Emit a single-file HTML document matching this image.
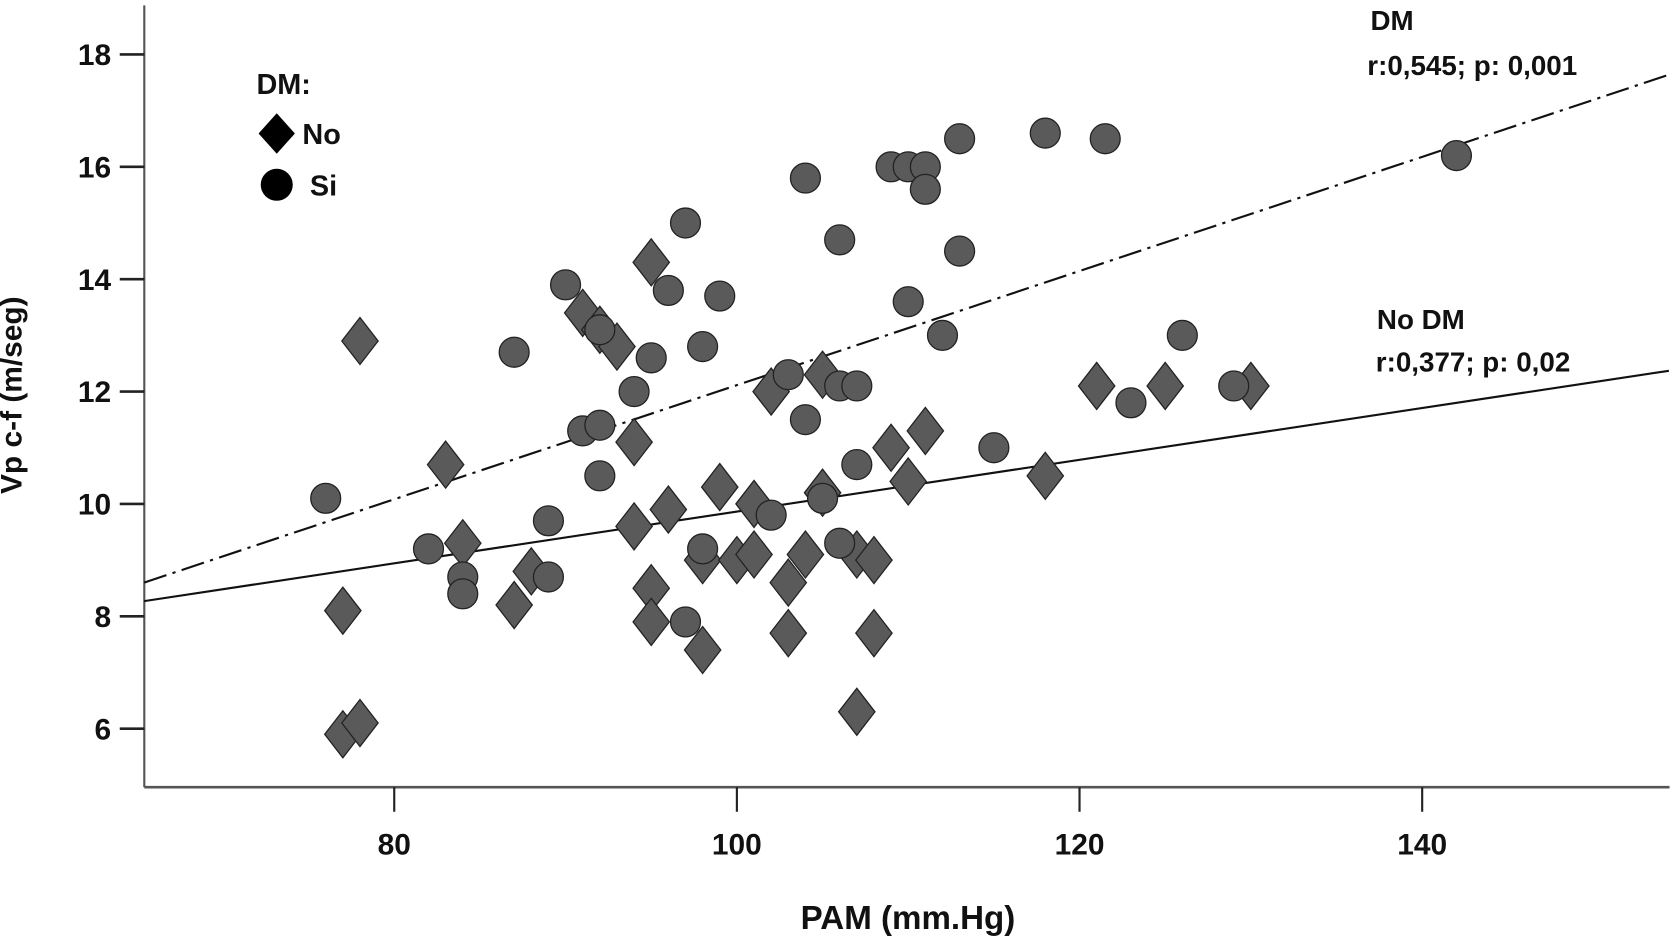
<!DOCTYPE html>
<html><head><meta charset="utf-8"><style>
html,body{margin:0;padding:0;background:#fff}
svg{display:block}
text{font-family:"Liberation Sans",sans-serif;font-weight:bold;fill:#111}
</style></head><body>
<svg id="chart" width="1675" height="941" viewBox="0 0 1568 881">
<g id="axes"></g>
<g id="lines"></g>
<g id="marks"></g>
<text x="20" y="370" font-size="28" text-anchor="middle" transform="rotate(-90 20 370)">Vp c-f (m/seg)</text>
<text x="850" y="870" font-size="31" text-anchor="middle">PAM (mm.Hg)</text>
<g>
<text x="240" y="88" font-size="27">DM:</text>
<polygon points="259,106 276,125 259,144 242,125" fill="#000"/>
<text x="283" y="135" font-size="27">No</text>
<circle cx="259" cy="173" r="15" fill="#000"/>
<text x="290" y="183" font-size="27">Si</text>
</g>
<text x="1283" y="28" font-size="26">DM</text>
<text x="1280" y="70" font-size="26">r:0,545; p: 0,001</text>
<text x="1289" y="308" font-size="26">No DM</text>
<text x="1288" y="348" font-size="26">r:0,377; p: 0,02</text>
</svg>
<script>
const xTicks=[80,100,120,140];
const yTicks=[6,8,10,12,14,16,18];
const siX=[76,82,84,84,87,89,89,90,91,92,92,92,94,95,96,97,97,98,98,99,102,103,104,104,105,106,106,106,107,107,109,110,110,111,111,112,113,113,115,118,121.5,123,126,129,142];
const siY=[10.1,9.2,8.7,8.4,12.7,9.7,8.7,13.9,11.3,11.4,10.5,13.1,12.0,12.6,13.8,15.0,7.9,12.8,9.2,13.7,9.8,12.3,15.8,11.5,10.1,14.7,12.1,9.3,12.1,10.7,16.0,16.0,13.6,16.0,15.6,13.0,16.5,14.5,11.0,16.6,16.5,11.8,13.0,12.1,16.2];
const noX=[77,78,77,78,83,84,87,88,91,92,93,94,94,95,95,95,96,98,98,99,100,101,101,102,103,103,104,105,105,107,107,108,108,109,110,111,118,121,125,130];
const noY=[5.9,6.1,8.1,12.9,10.7,9.3,8.2,8.8,13.4,13.1,12.8,11.1,9.6,14.3,8.5,7.9,9.9,9.0,7.4,10.3,9.0,10.0,9.1,12.0,8.6,7.7,9.1,12.3,10.2,9.1,6.3,9.0,7.7,11.0,10.4,11.3,10.5,12.1,12.1,12.1];
const lineNames=["nodm-fit-line","dm-fit-line"];
const lineX0=[65.4,65.4];
const lineY0=[8.27,8.6];
const lineX1=[154.4,154.4];
const lineY1=[12.37,17.64];
const NS="http://www.w3.org/2000/svg";
const X=v=>369+(v-80)*16.04;
const Y=v=>51+(18-v)*52.6;
function mk(tag,attrs,parent){const e=document.createElementNS(NS,tag);for(const k in attrs)e.setAttribute(k,attrs[k]);parent.appendChild(e);return e;}
const axes=document.getElementById('axes');
let e=mk('line',{x1:135,y1:5,x2:135,y2:737,stroke:'#555','stroke-width':2},axes);


e=mk('line',{x1:135,y1:737,x2:1563,y2:737,stroke:'#555','stroke-width':2.5},axes);


yTicks.forEach(t=>{
 let l=mk('line',{x1:112,y1:Y(t),x2:135,y2:Y(t),stroke:'#222','stroke-width':2.5},axes);
 
 
 let tx=mk('text',{x:104,y:Y(t)+10,'font-size':28,'text-anchor':'end'},axes);tx.textContent=t;
 
 
});
xTicks.forEach(t=>{
 let l=mk('line',{x1:X(t),y1:737,x2:X(t),y2:760,stroke:'#222','stroke-width':2},axes);
 
 
 let tx=mk('text',{x:X(t),y:800,'font-size':28,'text-anchor':'middle'},axes);tx.textContent=t;
 
 
});
const lines=document.getElementById('lines');
lineNames.forEach((n,i)=>{
 let l=mk('line',{x1:X(lineX0[i]),y1:Y(lineY0[i]),x2:X(lineX1[i]),y2:Y(lineY1[i]),stroke:'#111','stroke-width':2},lines);
 if(i===1)l.setAttribute('stroke-dasharray','22 6 3 6');
 
 
});
const marks=document.getElementById('marks');
noX.forEach((v,i)=>{
 const cx=X(v),cy=Y(noY[i]);
 let p=mk('polygon',{points:`${cx},${cy-22} ${cx+17},${cy} ${cx},${cy+22} ${cx-17},${cy}`,fill:'#5a5a5a',stroke:'#222','stroke-width':1.2},marks);
 
 
});
siX.forEach((v,i)=>{
 let c=mk('circle',{cx:X(v),cy:Y(siY[i]),r:14,fill:'#5a5a5a',stroke:'#222','stroke-width':1.2},marks);
 
 
});
</script>
</body></html>
